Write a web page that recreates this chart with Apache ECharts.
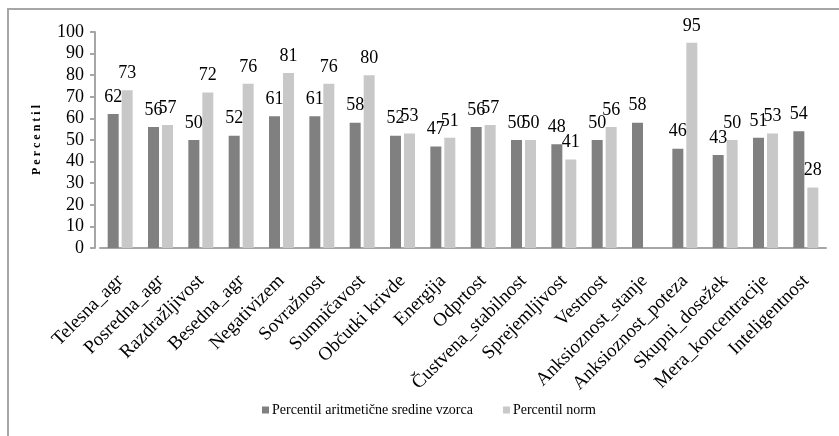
<!DOCTYPE html>
<html>
<head>
<meta charset="utf-8">
<script src="https://cdn.jsdelivr.net/npm/echarts@6/dist/echarts.min.js"></script>
<style>
  html, body { margin: 0; padding: 0; background: #fff; }
  #chart { width: 839px; height: 436px; }
</style>
</head>
<body>
<div id="chart"></div>
<script>
const categories = [
  'Telesna_agr', 'Posredna_agr', 'Razdražljivost', 'Besedna_agr', 'Negativizem',
  'Sovražnost', 'Sumničavost', 'Občutki krivde', 'Energija', 'Odprtost',
  'Čustvena_stabilnost', 'Sprejemljivost', 'Vestnost', 'Anksioznost_stanje',
  'Anksioznost_poteza', 'Skupni_dosežek', 'Mera_koncentracije', 'Inteligentnost'
];
const sampleValues = [62, 56, 50, 52, 61, 61, 58, 52, 47, 56, 50, 48, 50, 58, 46, 43, 51, 54];
const normValues = [73, 57, 72, 76, 81, 76, 80, 53, 51, 57, 50, 41, 56, null, 95, 50, 53, 28];
const seriesNames = ['Percentil aritmetične sredine vzorca', 'Percentil norm'];
const yTicks = { min: 0, max: 100, interval: 10 };

const font = 'Liberation Serif';
const chart = echarts.init(document.getElementById('chart'));

const labelStyle = {
  show: true,
  position: 'top',
  distance: 8,
  color: '#000',
  fontFamily: font,
  fontSize: 18
};

chart.setOption({
  animation: false,
  textStyle: { fontFamily: font },
  graphic: [{
    type: 'rect',
    shape: { x: 8, y: 9, width: 840, height: 440 },
    style: { fill: 'none', stroke: '#a6a6a6', lineWidth: 2 }
  }],
  grid: { left: 100, right: 13, top: 32, bottom: 188 },
  legend: {
    left: 257,
    top: 398,
    itemWidth: 7,
    itemHeight: 7,
    itemGap: 30,
    icon: 'rect',
    textStyle: { fontFamily: font, fontSize: 14, color: '#000', padding: [0, 0, 0, -2] },
    data: seriesNames
  },
  xAxis: {
    type: 'category',
    data: categories,
    axisLine: { lineStyle: { color: '#a6a6a6', width: 2 } },
    axisTick: { show: false },
    axisLabel: {
      rotate: 45,
      interval: 0,
      margin: 30,
      color: '#000',
      fontFamily: font,
      fontSize: 19
    }
  },
  yAxis: {
    type: 'value',
    min: yTicks.min,
    max: yTicks.max,
    interval: yTicks.interval,
    offset: 5,
    name: 'P e r c e n t i l',
    nameLocation: 'middle',
    nameRotate: 90,
    nameGap: 52,
    nameTextStyle: { fontFamily: font, fontSize: 12, fontWeight: 'bold', color: '#000' },
    splitLine: { show: false },
    axisLine: { show: true, lineStyle: { color: '#a6a6a6', width: 2 } },
    axisTick: { show: true, inside: false, length: 5, lineStyle: { color: '#a6a6a6', width: 2 } },
    axisLabel: { color: '#000', fontFamily: font, fontSize: 18, margin: 11 }
  },
  series: [
    {
      name: seriesNames[0],
      type: 'bar',
      data: sampleValues,
      barWidth: 11,
      barGap: '27%',
      itemStyle: { color: '#808080' },
      label: labelStyle
    },
    {
      name: seriesNames[1],
      type: 'bar',
      data: normValues,
      barWidth: 11,
      itemStyle: { color: '#c8c8c8' },
      label: labelStyle
    }
  ]
});
</script>
</body>
</html>
